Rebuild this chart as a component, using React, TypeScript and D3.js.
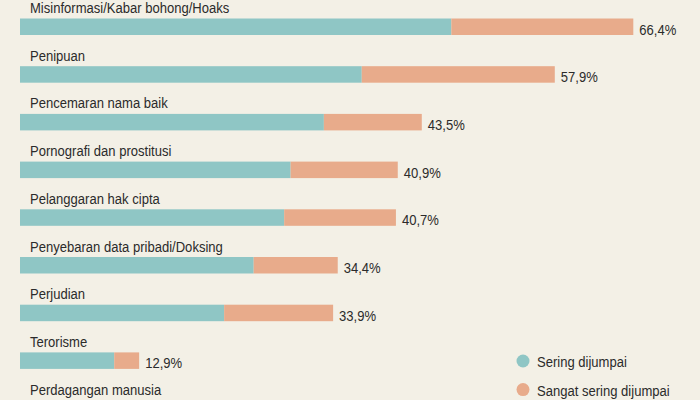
import { useRef, useEffect } from "react";
import * as d3 from "d3";

// Categories, top to bottom (last one falls below the visible frame)
const categories = [
  "Misinformasi/Kabar bohong/Hoaks",
  "Penipuan",
  "Pencemaran nama baik",
  "Pornografi dan prostitusi",
  "Pelanggaran hak cipta",
  "Penyebaran data pribadi/Doksing",
  "Perjudian",
  "Terorisme",
  "Perdagangan manusia",
];

// "Sering dijumpai" share (%)
const sering = [46.7, 37.0, 32.9, 29.3, 28.6, 25.3, 22.1, 10.2, 8.0];
// "Sangat sering dijumpai" share (%)
const sangatSering = [19.7, 20.9, 10.6, 11.6, 12.1, 9.1, 11.8, 2.7, 2.5];
// Printed totals
const totalLabels = ["66,4%", "57,9%", "43,5%", "40,9%", "40,7%", "34,4%", "33,9%", "12,9%", "10,5%"];

const legendItems = ["Sering dijumpai", "Sangat sering dijumpai"];

const colors = { sering: "#8fc6c5", sangat: "#e8ab8b" };
const bg = "#f3f0e6";
const textColor = "#2b2b2b";
const font = "'Liberation Sans', Arial, sans-serif";
const squeeze = 0.87; // condensed look of the original typeface

export default function App() {
  const svgRef = useRef<SVGSVGElement>(null);

  useEffect(() => {
    if (!svgRef.current) return;
    const width = 700;
    const height = 400;
    const svg = d3.select(svgRef.current);
    svg.selectAll("*").remove();

    svg.append("rect").attr("width", width).attr("height", height).attr("fill", bg);

    const x = d3.scaleLinear().domain([0, 66.4]).range([20, 633.3]);
    // band scale: step 47.7, bar 16.5 tall
    const step = 47.7;
    const pad = 1 - 16.5 / step;
    const y = d3.scaleBand<string>()
      .domain(categories)
      .range([18.5, 18.5 + step * (categories.length - pad)])
      .paddingInner(pad)
      .paddingOuter(0);
    const barH = y.bandwidth();

    const rows = categories.map((c, i) => ({
      c,
      a: sering[i],
      b: sangatSering[i],
      label: totalLabels[i],
    }));

    const g = svg.selectAll("g.row").data(rows).join("g").attr("class", "row");

    const addText = (sel: any, fx: (d: any) => number, fy: (d: any) => number, txt: (d: any) => string) =>
      sel.append("text")
        .attr("transform", (d: any) => `translate(${fx(d)},${fy(d)}) scale(${squeeze},1)`)
        .attr("fill", textColor)
        .attr("font-size", "15px")
        .attr("font-family", font)
        .text(txt);

    // category label
    addText(g, () => 30, (d) => (y(d.c) || 0) - 5.5, (d) => d.c);

    // teal segment
    g.append("rect")
      .attr("x", x(0))
      .attr("y", (d) => y(d.c) || 0)
      .attr("width", (d) => x(d.a) - x(0))
      .attr("height", barH)
      .attr("fill", colors.sering);

    // orange segment
    g.append("rect")
      .attr("x", (d) => x(d.a))
      .attr("y", (d) => y(d.c) || 0)
      .attr("width", (d) => x(d.a + d.b) - x(d.a))
      .attr("height", barH)
      .attr("fill", colors.sangat);

    // total label
    addText(g, (d) => x(d.a + d.b) + 6, (d) => (y(d.c) || 0) + 16, (d) => d.label);

    // legend
    const legend = svg.append("g").attr("transform", "translate(523,361)");
    const li = legend.selectAll("g").data(legendItems).join("g")
      .attr("transform", (_, i) => `translate(0,${i * 28.6})`);
    li.append("circle")
      .attr("r", 6.5)
      .attr("fill", (_, i) => (i === 0 ? colors.sering : colors.sangat));
    addText(li, () => 14, () => 6, (d) => d);
  }, []);

  return (
    <div style={{ position: "fixed", left: 0, top: 0, width: 700, height: 400, overflow: "hidden" }}>
      <svg ref={svgRef} width={700} height={400} style={{ display: "block" }} />
    </div>
  );
}
